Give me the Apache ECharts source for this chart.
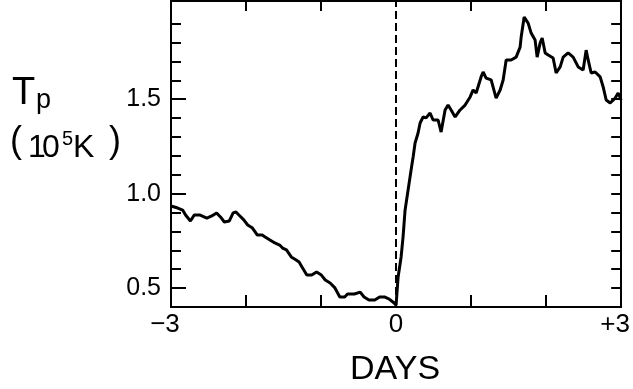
<!DOCTYPE html>
<html>
<head>
<meta charset="utf-8">
<script src="https://cdn.jsdelivr.net/npm/echarts@6/dist/echarts.min.js"></script>
<style>
html,body{margin:0;padding:0;background:#fff;}
#chart{width:633px;height:389px;}
</style>
</head>
<body>
<div id="chart"></div>
<script>
// Days relative to the event (day 0)
const days = [-3.00,-2.91,-2.845,-2.806,-2.741,-2.69,-2.612,-2.522,-2.457,-2.392,
  -2.328,-2.289,-2.224,-2.172,-2.134,-2.095,-2.03,-1.978,-1.914,-1.849,
  -1.784,-1.746,-1.681,-1.616,-1.552,-1.513,-1.461,-1.397,-1.332,-1.293,
  -1.254,-1.19,-1.125,-1.06,-0.996,-0.944,-0.879,-0.815,-0.75,-0.685,
  -0.647,-0.556,-0.478,-0.427,-0.362,-0.284,-0.22,-0.155,-0.091,-0.026,
  0.00,
  0.027,0.067,0.093,0.12,0.16,0.2,0.227,0.253,0.293,0.32,
  0.36,0.4,0.453,0.493,0.56,0.6,0.653,0.693,0.733,0.787,
  0.853,0.92,0.987,1.027,1.067,1.133,1.16,1.2,1.267,1.333,
  1.387,1.427,1.467,1.533,1.6,1.653,1.667,1.707,1.76,1.8,
  1.853,1.88,1.92,1.947,1.987,2.027,2.093,2.133,2.187,2.227,
  2.293,2.36,2.427,2.493,2.533,2.56,2.6,2.653,2.72,2.76,
  2.8,2.853,2.92,2.96,3.0];
// Proton temperature Tp (10^5 K)
const tp = [0.935,0.924,0.913,0.887,0.855,0.887,0.887,0.871,0.882,0.898,
  0.871,0.85,0.855,0.898,0.903,0.887,0.861,0.834,0.818,0.781,
  0.781,0.771,0.755,0.739,0.728,0.712,0.702,0.665,0.649,0.638,
  0.612,0.569,0.569,0.585,0.569,0.543,0.527,0.501,0.453,0.453,
  0.469,0.469,0.479,0.453,0.437,0.437,0.453,0.453,0.442,0.421,
  0.41,
  0.559,0.665,0.771,0.914,1.019,1.125,1.194,1.268,1.321,1.374,
  1.406,1.401,1.427,1.39,1.39,1.326,1.443,1.469,1.443,1.406,
  1.443,1.469,1.512,1.549,1.533,1.618,1.644,1.612,1.602,1.506,
  1.549,1.602,1.708,1.708,1.723,1.776,1.829,1.935,1.903,1.85,
  1.813,1.723,1.798,1.824,1.745,1.734,1.718,1.639,1.671,1.723,
  1.745,1.723,1.671,1.655,1.76,1.708,1.639,1.644,1.618,1.565,
  1.496,1.48,1.506,1.533,1.496];

const xTickValues = [-2, -1, 1, 2];
const xLabelValues = [-3, 0, 3];
const yTickValues = [0.5,0.6,0.7,0.8,0.9,1.0,1.1,1.2,1.3,1.4,1.5,1.6,1.7,1.8,1.9];
const yMajorValues = [0.5, 1.0, 1.5];

const FONT = "'Liberation Sans', Arial, sans-serif";
const seriesData = days.map((d, i) => [d, tp[i]]);

const chart = echarts.init(document.getElementById('chart'), null, {renderer: 'canvas'});
const axisLine = {show: true, onZero: false, lineStyle: {color: '#000', width: 2}};

chart.setOption({
  animation: false,
  backgroundColor: '#fff',
  grid: {left: 171, right: 5, top: 1, bottom: 82},
  xAxis: [{
    type: 'value', min: -3, max: 3, interval: 1, position: 'bottom',
    axisLine: axisLine,
    axisTick: {show: true, inside: true, length: 12, customValues: xTickValues, lineStyle: {color: '#000', width: 2}},
    axisLabel: {
      show: true, margin: 5, customValues: xLabelValues, color: '#000',
      fontFamily: FONT, fontSize: 26,
      formatter: v => v === -3 ? '{l|\u22123}' : (v === 3 ? '{r|+3}' : String(v)),
      rich: {
        l: {fontFamily: FONT, fontSize: 26, color: '#000', padding: [0, 12, 0, 0]},
        r: {fontFamily: FONT, fontSize: 26, color: '#000', padding: [0, 12, 0, 0]}
      }
    },
    splitLine: {show: false}
  }, {
    type: 'value', min: -3, max: 3, interval: 1, position: 'top',
    axisLine: axisLine,
    axisTick: {show: true, inside: true, length: 10, customValues: xTickValues, lineStyle: {color: '#000', width: 2}},
    axisLabel: {show: false},
    splitLine: {show: false}
  }],
  yAxis: [{
    type: 'value', min: 0.4, max: 2.02, interval: 0.1, position: 'left',
    axisLine: axisLine,
    axisTick: {show: true, inside: true, length: 10, customValues: yTickValues, lineStyle: {color: '#000', width: 2}},
    axisLabel: {
      show: true, margin: 10, customValues: yMajorValues, color: '#000',
      fontFamily: FONT, fontSize: 25,
      formatter: v => v.toFixed(1)
    },
    splitLine: {show: false}
  }, {
    type: 'value', min: 0.4, max: 2.02, interval: 0.1, position: 'left',
    axisLine: {show: false, onZero: false},
    axisTick: {show: true, inside: true, length: 15, customValues: yMajorValues, lineStyle: {color: '#000', width: 2}},
    axisLabel: {show: false},
    splitLine: {show: false}
  }, {
    type: 'value', min: 0.4, max: 2.02, interval: 0.1, position: 'right',
    axisLine: axisLine,
    axisTick: {show: true, inside: true, length: 10, customValues: yTickValues, lineStyle: {color: '#000', width: 2}},
    axisLabel: {show: false},
    splitLine: {show: false}
  }],
  series: [{
    type: 'line',
    xAxisIndex: 0, yAxisIndex: 0,
    data: seriesData,
    showSymbol: false,
    symbol: 'none',
    lineStyle: {color: '#000', width: 3},
    markLine: {
      silent: true,
      symbol: ['none', 'none'],
      label: {show: false},
      lineStyle: {color: '#000', width: 2, type: 'dashed'},
      data: [{xAxis: 0}]
    }
  }],
  graphic: [
    {type: 'text', x: 12, y: 94, style: {text: 'T', font: "38px " + FONT, fill: '#000', textVerticalAlign: 'middle'}},
    {type: 'text', x: 36, y: 101, style: {text: 'p', font: "27px " + FONT, fill: '#000', textVerticalAlign: 'middle'}},
    {type: 'text', x: 10, y: 142, style: {text: '(', font: "36px " + FONT, fill: '#000', textVerticalAlign: 'middle'}},
    {type: 'text', x: 28, y: 148, style: {text: '1', font: "32px " + FONT, fill: '#000', textVerticalAlign: 'middle'}},
    {type: 'text', x: 42, y: 148, style: {text: '0', font: "32px " + FONT, fill: '#000', textVerticalAlign: 'middle'}},
    {type: 'text', x: 62, y: 139, style: {text: '5', font: "20px " + FONT, fill: '#000', textVerticalAlign: 'middle'}},
    {type: 'text', x: 73, y: 148, style: {text: 'K', font: "32px " + FONT, fill: '#000', textVerticalAlign: 'middle'}},
    {type: 'text', x: 109, y: 142, style: {text: ')', font: "36px " + FONT, fill: '#000', textVerticalAlign: 'middle'}},
    {type: 'text', x: 350, y: 370, style: {text: 'DAYS', font: "34px " + FONT, fill: '#000', textVerticalAlign: 'middle'}}
  ]
});
</script>
</body>
</html>
